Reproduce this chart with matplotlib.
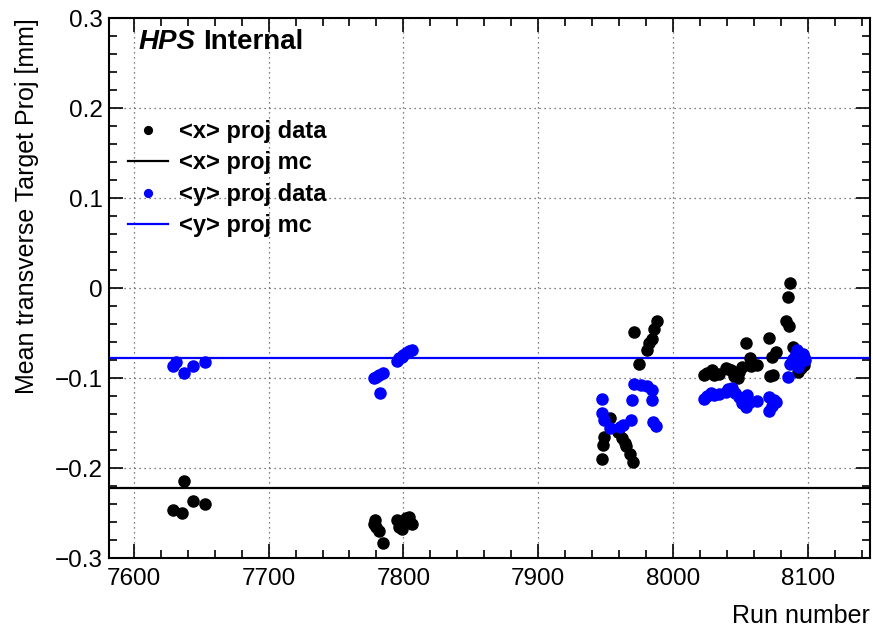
import matplotlib.pyplot as plt
from matplotlib.ticker import MultipleLocator, FuncFormatter

plt.rcParams['font.family'] = ['Liberation Sans', 'DejaVu Sans']

# <x> projection, data (run, value)
x_runs = [7629, 7636, 7637, 7644, 7653,
          7778, 7779, 7780, 7782, 7785, 7795, 7797, 7799, 7800, 7802, 7804, 7806,
          7947, 7948, 7948.5, 7953, 7959, 7962, 7964, 7965, 7968, 7970,
          7971, 7975, 7981, 7982, 7984, 7986, 7988,
          8023, 8025, 8029, 8030, 8034, 8039, 8041, 8043, 8045, 8048, 8049, 8051,
          8054, 8057, 8058, 8062, 8071, 8072, 8073, 8074, 8076, 8084, 8085, 8086,
          8087, 8089, 8091, 8093, 8095, 8097]
x_vals = [-0.247, -0.250, -0.214, -0.237, -0.240,
          -0.262, -0.258, -0.266, -0.270, -0.283, -0.258, -0.265, -0.268, -0.262, -0.256, -0.254, -0.262,
          -0.190, -0.174, -0.165, -0.144, -0.160, -0.167, -0.172, -0.176, -0.184, -0.193,
          -0.049, -0.084, -0.069, -0.061, -0.056, -0.045, -0.036,
          -0.097, -0.094, -0.091, -0.097, -0.095, -0.089, -0.090, -0.091, -0.098, -0.100, -0.093, -0.088,
          -0.061, -0.078, -0.087, -0.085, -0.055, -0.098, -0.076, -0.096, -0.071, -0.036, -0.010, -0.042,
          0.006, -0.065, -0.080, -0.093, -0.089, -0.085]

# <y> projection, data (run, value)
y_runs = [7629, 7631, 7637, 7644, 7653,
          7778, 7780, 7782, 7783, 7785, 7795, 7797, 7799, 7800, 7802, 7804, 7806,
          7947, 7947.5, 7949, 7953, 7961, 7963, 7969, 7969.5, 7971, 7976, 7981, 7984,
          7984.5, 7985, 7987.5,
          8023, 8025, 8028, 8030, 8034, 8039, 8041, 8044, 8046, 8049, 8051, 8054,
          8055, 8057, 8062, 8071, 8071.5, 8073, 8075, 8076, 8085, 8087, 8089, 8091,
          8092, 8093, 8094, 8096, 8097, 8098]
y_vals = [-0.086, -0.082, -0.094, -0.086, -0.082,
          -0.100, -0.099, -0.097, -0.117, -0.094, -0.081, -0.078, -0.076, -0.074, -0.072, -0.070, -0.069,
          -0.123, -0.139, -0.147, -0.156, -0.154, -0.152, -0.147, -0.124, -0.106, -0.108, -0.109, -0.113,
          -0.124, -0.149, -0.153,
          -0.123, -0.120, -0.117, -0.119, -0.118, -0.115, -0.112, -0.111, -0.116, -0.121, -0.128, -0.132,
          -0.119, -0.126, -0.125, -0.121, -0.136, -0.131, -0.124, -0.127, -0.099, -0.084, -0.079, -0.072,
          -0.069, -0.088, -0.080, -0.073, -0.076, -0.080]

# MC expectations
x_mc = -0.222
y_mc = -0.0775

fig = plt.figure(figsize=(8.73, 6.27), dpi=100)
ax = fig.add_axes([0.1254, 0.110, 0.8711, 0.8608])

ax.plot(x_runs, x_vals, 'o', color='black', markersize=8, label='<x> proj data', zorder=3)
ax.axhline(x_mc, color='black', lw=1.6, label='<x> proj mc', zorder=2)
ax.plot(y_runs, y_vals, 'o', color='#0000ff', markersize=8, label='<y> proj data', zorder=4)
ax.axhline(y_mc, color='#0000ff', lw=1.6, label='<y> proj mc', zorder=2)

ax.set_xlim(7582, 8146)
ax.set_ylim(-0.3, 0.3)

ax.xaxis.set_major_locator(MultipleLocator(100))
ax.xaxis.set_minor_locator(MultipleLocator(20))
ax.yaxis.set_major_locator(MultipleLocator(0.1))
ax.yaxis.set_minor_locator(MultipleLocator(0.02))
ax.yaxis.set_major_formatter(FuncFormatter(
    lambda v, p: '0' if abs(v) < 1e-9 else ('%.1f' % v).replace('-', '\u2212')))

ax.tick_params(which='both', direction='in', top=True, right=True, labelsize=17.5, width=1.2)
ax.tick_params(which='major', length=10)
ax.tick_params(which='minor', length=5.5)
ax.tick_params(axis='x', pad=7)
ax.tick_params(axis='y', pad=5)
for s in ax.spines.values():
    s.set_linewidth(1.5)

ax.grid(True, which='major', linestyle=(0, (1, 3)), color='#555555', lw=0.9)

ax.set_xlabel('Run number', fontsize=18, loc='right', labelpad=10)
ax.set_ylabel('Mean transverse Target Proj [mm]', fontsize=18, loc='top', labelpad=11)

hps = ax.text(0.0388, 0.9426, 'HPS', transform=ax.transAxes, fontsize=20,
              fontweight='bold', fontstyle='italic', va='baseline', ha='left')
ax.annotate('Internal', xy=(1, 0), xycoords=hps, xytext=(5, 0),
            textcoords='offset points', fontsize=20, fontweight='bold',
            va='bottom', ha='left')

ax.legend(loc='upper left', bbox_to_anchor=(0.0243, 0.812), frameon=False,
          prop={'weight': 'bold', 'size': 17}, markerscale=0.7,
          handlelength=1.7, handletextpad=0.45, labelspacing=0.36,
          borderpad=0, borderaxespad=0)

fig.savefig('out.png', dpi=100)
